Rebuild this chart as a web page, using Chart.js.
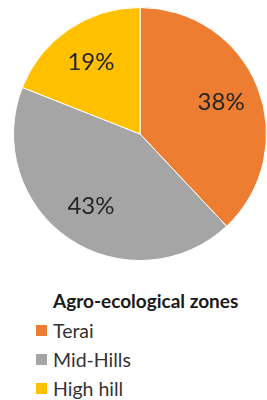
<!DOCTYPE html>
<html>
<head>
<meta charset="utf-8">
<script src="https://cdn.jsdelivr.net/npm/chart.js@4.4.0/dist/chart.umd.min.js"></script>
<style>
  html, body { margin: 0; padding: 0; background: #fff; overflow: hidden; }
  body { width: 267px; height: 400px; position: relative; font-family: Lato, sans-serif; }
  #pieWrap { position: absolute; left: 13px; top: 7px; width: 254px; height: 254px; }
  #legend { position: absolute; left: 36px; top: 289px; color: #333; }
  #legend .title { font-weight: bold; font-size: 19px; margin-left: 17px; height: 27px; line-height: 24px; color: #1a1a1a; }
  #legend .item { display: flex; align-items: center; height: 29px; font-size: 19.5px; }
  #legend .box { width: 11px; height: 11px; margin-right: 6px; }
</style>
</head>
<body>
<div id="pieWrap"><canvas id="zoneChart"></canvas></div>
<div id="legend"></div>
<script>
const zones = ['Terai', 'Mid-Hills', 'High hill'];
const shares = [38, 43, 19];
const zoneColors = ['#ED7D31', '#A5A5A5', '#FFC000'];
const legendTitle = 'Agro-ecological zones';

// percent labels inside each slice
const sliceLabels = {
  id: 'sliceLabels',
  afterDatasetsDraw(chart) {
    const c = chart.ctx;
    const meta = chart.getDatasetMeta(0);
    c.save();
    c.font = '24px Lato, sans-serif';
    c.fillStyle = '#262626';
    c.textAlign = 'center';
    c.textBaseline = 'middle';
    meta.data.forEach((arc, i) => {
      const mid = (arc.startAngle + arc.endAngle) / 2;
      const r = arc.outerRadius * 0.69;
      c.fillText(shares[i] + '%', arc.x + Math.cos(mid) * r, arc.y + Math.sin(mid) * r);
    });
    c.restore();
  }
};

const ctx = document.getElementById('zoneChart').getContext('2d');
const zoneChart = new Chart(ctx, {
  type: 'pie',
  data: {
    labels: zones,
    datasets: [{
      data: shares,
      backgroundColor: zoneColors,
      borderColor: '#ffffff',
      borderWidth: 1
    }]
  },
  options: {
    responsive: true,
    maintainAspectRatio: false,
    animation: false,
    layout: { padding: 0 },
    plugins: {
      legend: { display: false },
      tooltip: { enabled: false }
    }
  },
  plugins: [sliceLabels]
});

// legend built from the same arrays
const legend = document.getElementById('legend');
let html = '<div class="title">' + legendTitle + '</div>';
zones.forEach((z, i) => {
  html += '<div class="item"><span class="box" style="background:' + zoneColors[i] + '"></span>' + z + '</div>';
});
legend.innerHTML = html;
</script>
</body>
</html>
